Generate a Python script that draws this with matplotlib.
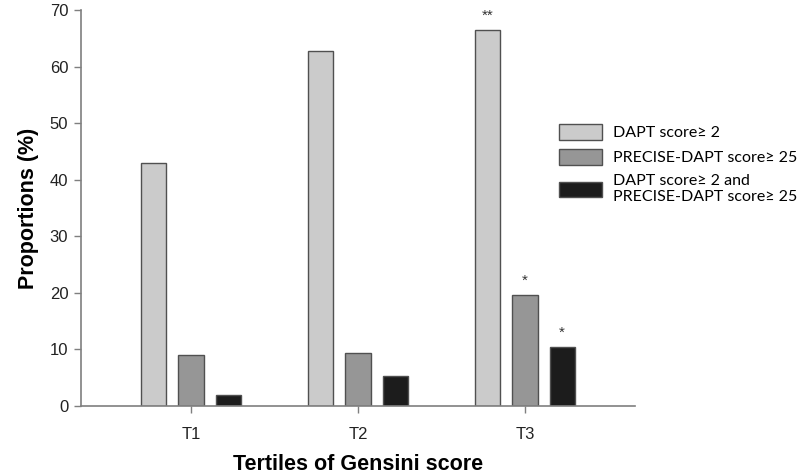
import numpy as np
import matplotlib
matplotlib.use('Agg')
import matplotlib.pyplot as plt

groups = ['T1', 'T2', 'T3']
series = ['DAPT score\u2265 2', 'PRECISE-DAPT score\u2265 25',
          'DAPT score\u2265 2 and\nPRECISE-DAPT score\u2265 25']
dapt = [43.0, 62.7, 66.5]
precise = [9.0, 9.3, 19.7]
both = [2.0, 5.3, 10.5]
marks = [['', '', ''], ['', '', ''], ['**', '*', '*']]  # per group: dapt, precise, both

colors = ['#cbcbcb', '#969696', '#1c1c1c']
axcol = '#7f7f7f'

plt.rcParams['font.family'] = ['Liberation Sans', 'DejaVu Sans']

fig = plt.figure(figsize=(8, 4.74), dpi=100)
ax = fig.add_axes([0.101, 0.1435, 0.693, 0.835])

x = np.arange(1, len(groups) + 1)
w = 0.15
off = 0.222
bars = []
for k, vals in enumerate([dapt, precise, both]):
    b = ax.bar(x + (k - 1) * off, vals, w, color=colors[k], edgecolor='#505050',
               linewidth=1.0, label=series[k])
    bars.append(b)

for g in range(len(groups)):
    for k, vals in enumerate([dapt, precise, both]):
        if marks[g][k]:
            ax.text(x[g] + (k - 1) * off, vals[g] + 1.2, marks[g][k], ha='center',
                    va='bottom', fontsize=11, color='#333333')

ax.set_xlim(0.34, 3.66)
ax.set_ylim(0, 70)
ax.set_yticks(range(0, 71, 10))
ax.set_xticks(x)
ax.set_xticklabels(groups)
for s in ['top', 'right']:
    ax.spines[s].set_visible(False)
for s in ['left', 'bottom']:
    ax.spines[s].set_color(axcol)
    ax.spines[s].set_linewidth(1.2)
ax.tick_params(axis='both', colors=axcol, labelcolor='#222222', labelsize=12,
               length=5, width=1.0, direction='out')
ax.tick_params(axis='y', pad=4)
ax.tick_params(axis='x', pad=10)

ax.set_ylabel('Proportions (%)', fontsize=15.5, fontweight='bold', labelpad=8)
ax.set_xlabel('Tertiles of Gensini score', fontsize=15.5, fontweight='bold', labelpad=9)

leg = fig.legend(handles=bars, labels=series, loc='upper left',
                 bbox_to_anchor=(0.681, 0.768), frameon=False,
                 prop={'family': ['Lato', 'DejaVu Sans'], 'size': 11.5},
                 handlelength=2.7, handleheight=1.1, handletextpad=0.7,
                 labelspacing=0.55)

fig.savefig('out.png', dpi=100)
